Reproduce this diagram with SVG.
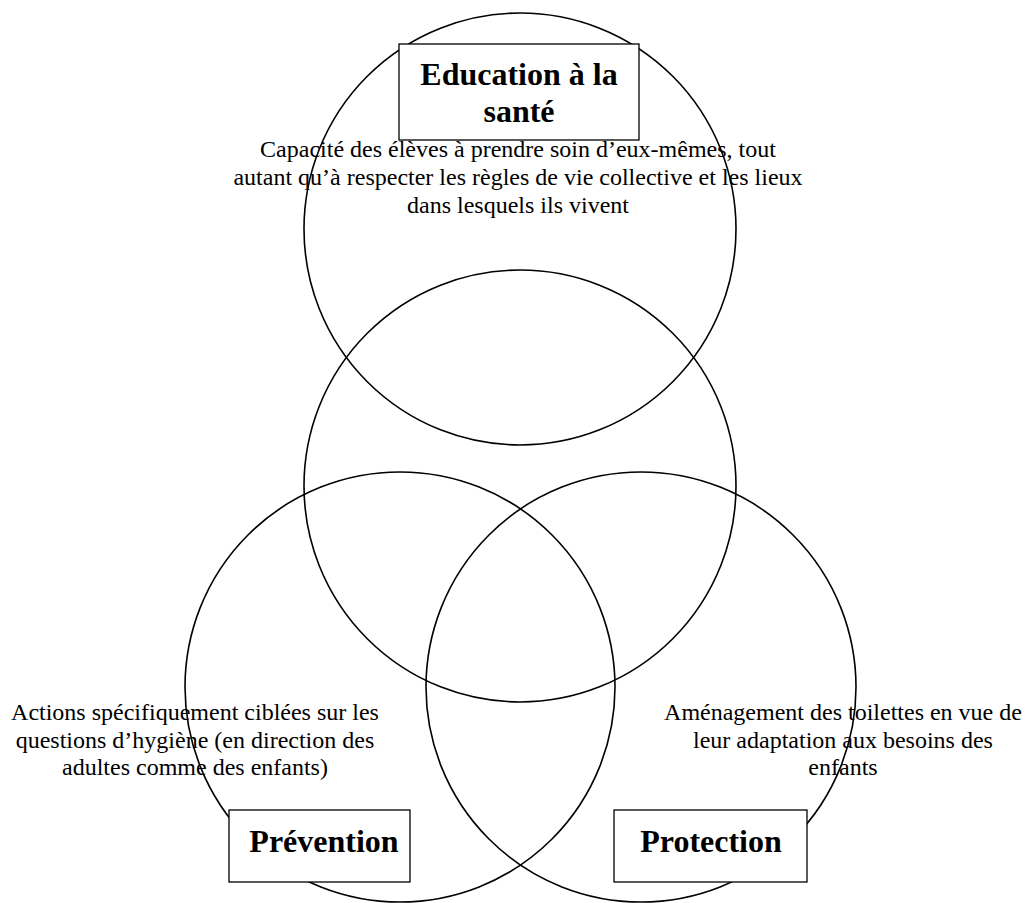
<svg xmlns="http://www.w3.org/2000/svg" width="1025" height="903" viewBox="0 0 1025 903">
<style>
.c{fill:none;stroke:#000;stroke-width:1.6}
.b{fill:#fff;stroke:#000;stroke-width:1.3}
.t{font-family:"Liberation Serif","Times New Roman",serif;font-size:24px;fill:#000;text-anchor:middle}
.h{font-family:"Liberation Serif","Times New Roman",serif;font-size:32px;font-weight:bold;fill:#000;text-anchor:middle}
</style>
<rect width="1025" height="903" fill="#fff"/>
<g id="circles">
<circle class="c" cx="520" cy="229" r="216"/>
<circle class="c" cx="520" cy="486" r="216"/>
<circle class="c" cx="400" cy="687" r="215"/>
<circle class="c" cx="641" cy="687" r="215"/>
</g>
<g id="education">
<rect class="b" x="399" y="44" width="240" height="96"/>
<text class="h" x="519" y="85">Education à la</text>
<text class="h" x="519" y="122">santé</text>
<text class="t" x="518" y="157">Capacité des élèves à prendre soin d’eux-mêmes, tout</text>
<text class="t" x="518" y="185">autant qu’à respecter les règles de vie collective et les lieux</text>
<text class="t" x="518" y="213">dans lesquels ils vivent</text>
</g>
<g id="prevention">
<rect class="b" x="229" y="810" width="181" height="72"/>
<text class="h" x="324" y="852">Prévention</text>
<text class="t" x="195" y="720">Actions spécifiquement ciblées sur les</text>
<text class="t" x="195" y="748">questions d’hygiène (en direction des</text>
<text class="t" x="195" y="775">adultes comme des enfants)</text>
</g>
<g id="protection">
<rect class="b" x="614" y="810" width="193" height="72"/>
<text class="h" x="711" y="852">Protection</text>
<text class="t" x="843" y="720">Aménagement des toilettes en vue de</text>
<text class="t" x="843" y="748">leur adaptation aux besoins des</text>
<text class="t" x="843" y="775">enfants</text>
</g>
<g id="connectors"></g>
</svg>
